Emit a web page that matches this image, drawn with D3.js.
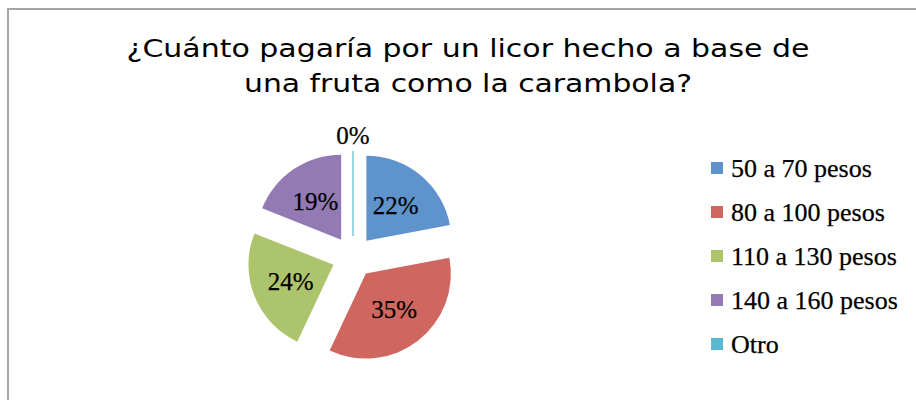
<!DOCTYPE html>
<html>
<head>
<meta charset="utf-8">
<script src="https://cdn.jsdelivr.net/npm/d3@7"></script>
<style>
  body { margin: 0; background: #fff; }
  svg { display: block; }
</style>
</head>
<body>
<div id="chart"></div>
<script>
// datos
var titleLines = ["¿Cuánto pagaría por un licor hecho a base de", "una fruta como la carambola?"];
var categories = ["50 a 70 pesos", "80 a 100 pesos", "110 a 130 pesos", "140 a 160 pesos", "Otro"];
var percents = [22, 35, 24, 19, 0];
var palette = ["#5f93cc", "#cf6660", "#acc46c", "#937ab4", "#5ab9d0"];

var width = 916, height = 400;
var cx = 353, cy = 257, radius = 85, explode = 21;

var svg = d3.select("#chart").append("svg")
    .attr("width", width)
    .attr("height", height);

// marco del grafico (solo se ven el borde superior e izquierdo)
svg.append("rect")
    .attr("x", 8)
    .attr("y", 9)
    .attr("width", 1000)
    .attr("height", 1000)
    .attr("fill", "none")
    .attr("stroke", "#a6a6a6")
    .attr("stroke-width", 2);

// titulo
var titleWidths = [683, 448];
svg.selectAll(".title-line")
    .data(titleLines)
    .enter().append("text")
    .attr("class", "title-line")
    .attr("x", 468)
    .attr("y", function (d, i) { return 57 + i * 35; })
    .attr("text-anchor", "middle")
    .attr("font-family", "'DejaVu Sans', sans-serif")
    .attr("font-size", "24px")
    .attr("fill", "#000")
    .attr("textLength", function (d, i) { return titleWidths[i]; })
    .attr("lengthAdjust", "spacingAndGlyphs")
    .text(function (d) { return d; });

var color = d3.scaleOrdinal().domain(categories).range(palette);

var pie = d3.pie()
    .sort(null)
    .value(function (d) { return d.value; });

var data = categories.map(function (c, i) { return {name: c, value: percents[i]}; });
var slices = pie(data);

var arc = d3.arc().innerRadius(0).outerRadius(radius);
var labelArc = d3.arc().innerRadius(46).outerRadius(46);
var outerArc = d3.arc().innerRadius(radius + 16).outerRadius(radius + 16);

var pieG = svg.append("g")
    .attr("transform", "translate(" + cx + "," + cy + ")");

var sliceG = pieG.selectAll(".slice")
    .data(slices)
    .enter().append("g")
    .attr("class", "slice")
    .attr("transform", function (d) {
        var mid = (d.startAngle + d.endAngle) / 2;
        return "translate(" + (Math.sin(mid) * explode) + "," + (-Math.cos(mid) * explode) + ")";
    });

sliceG.filter(function (d) { return d.value > 0; })
    .append("path")
    .attr("d", arc)
    .attr("fill", function (d) { return color(d.data.name); });

// una porcion de 0% se ve como una linea fina
sliceG.filter(function (d) { return d.value === 0; })
    .append("line")
    .attr("x1", function (d) { return Math.sin(d.startAngle) * 0; })
    .attr("y1", 0)
    .attr("x2", function (d) { return Math.sin(d.startAngle) * radius; })
    .attr("y2", function (d) { return -Math.cos(d.startAngle) * radius; })
    .attr("stroke", function (d) { return color(d.data.name); })
    .attr("stroke-width", 1.2);

sliceG.append("text")
    .attr("transform", function (d) {
        var p = d.value === 0 ? outerArc.centroid(d) : labelArc.centroid(d);
        return "translate(" + p[0] + "," + (p[1] + 8.5) + ")";
    })
    .attr("text-anchor", "middle")
    .attr("font-family", "'Liberation Serif', serif")
    .attr("font-size", "25px")
    .attr("fill", "#000")
    .attr("stroke", "#000")
    .attr("stroke-width", 0.25)
    .text(function (d) { return d.value + "%"; });

// leyenda
var legend = svg.append("g")
    .attr("transform", "translate(711,168)");

var rows = legend.selectAll(".row")
    .data(categories)
    .enter().append("g")
    .attr("class", "row")
    .attr("transform", function (d, i) { return "translate(0," + (i * 44) + ")"; });

rows.append("rect")
    .attr("x", 0)
    .attr("y", -6)
    .attr("width", 12)
    .attr("height", 12)
    .attr("fill", function (d) { return color(d); });

rows.append("text")
    .attr("x", 20)
    .attr("y", 9)
    .attr("font-family", "'Liberation Serif', serif")
    .attr("font-size", "26px")
    .attr("fill", "#000")
    .attr("stroke", "#000")
    .attr("stroke-width", 0.25)
    .text(function (d) { return d; });
</script>
</body>
</html>
